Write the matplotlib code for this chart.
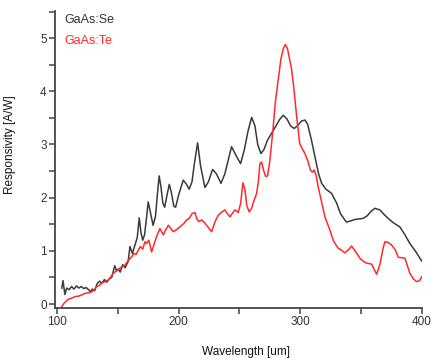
import matplotlib
matplotlib.use("Agg")
import matplotlib.pyplot as plt
from matplotlib.ticker import MultipleLocator

plt.rcParams['font.family'] = ['Liberation Sans', 'DejaVu Sans']

# GaAs:Se (black) responsivity
se_x = [104, 105, 106.5, 108, 110, 112, 114, 116, 118, 120, 122, 124, 126, 127.5, 129, 131, 133,
        135, 137, 139, 141, 143, 145, 147.5, 149, 150.5, 152, 154, 156, 158.5, 160, 162, 164,
        166, 167.6, 169, 170.5, 172, 173.5, 175, 177, 179, 181, 182.5, 184, 185.5, 187, 188.5,
        190.5, 192.3, 194, 196, 197.5, 200, 203.8, 206.5, 208.7, 211, 213, 215.6, 218, 221.6,
        224.5, 227.9, 231, 234.8, 238, 243.5, 247, 250.9, 254, 257, 260, 262.7, 265,
        267.6, 270, 273, 276.4, 280, 283, 286, 289, 292, 295, 298, 301, 303.8, 306, 309,
        312, 315, 317.5, 321, 325.7, 329.8, 333, 336.6, 338, 341, 344.9, 348, 351.7, 355,
        358, 361.3, 365.4, 369, 373.6, 377, 381.8, 386, 390, 395, 399.7]
se_y = [0.3, 0.44, 0.18, 0.3, 0.27, 0.33, 0.28, 0.34, 0.3, 0.33, 0.29, 0.31, 0.27, 0.23, 0.28, 0.25,
        0.38, 0.43, 0.39, 0.46, 0.41, 0.47, 0.5, 0.72, 0.62, 0.66, 0.6, 0.74, 0.68, 0.8, 1.08,
        0.95, 1.1, 1.25, 1.62, 1.35, 1.2, 1.3, 1.6, 1.92, 1.7, 1.48, 1.65, 2.05, 2.41, 2.2,
        1.9, 1.82, 2.05, 2.25, 2.1, 1.84, 1.82, 2.05, 2.33, 2.25, 2.16, 2.3, 2.65, 3.03, 2.6,
        2.19, 2.3, 2.53, 2.45, 2.27, 2.45, 2.96, 2.8, 2.64, 2.9, 3.25, 3.51, 3.35, 3.0,
        2.83, 2.9, 3.08, 3.21, 3.35, 3.47, 3.55, 3.48, 3.35, 3.3, 3.36, 3.44, 3.46, 3.38,
        3.1, 2.77, 2.45, 2.27, 2.16, 2.08, 1.9, 1.7, 1.58, 1.54, 1.56, 1.59, 1.6, 1.61, 1.66,
        1.74, 1.8, 1.77, 1.68, 1.58, 1.52, 1.45, 1.3, 1.14, 0.98, 0.81]

# GaAs:Te (red) responsivity
te_x = [104, 106, 109.3, 112, 115, 118, 120.3, 123, 126, 128.5, 130.5, 132.6, 135, 137, 139.4,
        142, 144, 146.3, 149, 151, 153.2, 155.5, 158, 161.4, 163.5, 165, 166.8, 168.5, 170.5,
        172.3, 173.7, 175.5, 177.8, 179.5, 181.9, 184.6, 186, 187.4, 189, 191.5, 193.5, 195.6,
        198.4, 200.5, 202.5, 204.5, 206.6, 209, 211, 213.4, 215, 216.5, 219, 221.6, 224,
        227.1, 230, 232.5, 235, 238, 240, 242.2, 244, 246.3, 249, 251, 252.8, 254.5, 256, 258,
        260, 262, 264.1, 265.5, 266.8, 268.2, 270, 271.5, 273.1, 275, 277.5, 279.5, 281.8,
        284, 286, 287.7, 289.5, 291, 292.6, 294.5, 297, 299.5, 301.5, 303.8, 306, 308.3,
        310, 311.4, 313, 314.7, 317.5, 320.2, 322.5, 324.3, 327, 329, 331.1, 333.5, 336.6,
        339.5, 342.1, 345, 349, 352, 354.5, 358.6, 362.7, 365.5, 368, 369.5, 372, 375, 378,
        380.5, 383, 386, 388, 390, 393, 395.6, 398, 399.7]
te_y = [-0.05, 0.02, 0.09, 0.11, 0.14, 0.15, 0.17, 0.2, 0.21, 0.23, 0.26, 0.33, 0.35, 0.4, 0.42,
        0.45, 0.5, 0.58, 0.62, 0.66, 0.7, 0.72, 0.8, 0.89, 0.95, 0.93, 1.01, 1.08, 1.03,
        1.17, 1.14, 1.2, 0.98, 1.1, 1.27, 1.42, 1.36, 1.3, 1.38, 1.48, 1.42, 1.36, 1.4,
        1.44, 1.48, 1.52, 1.58, 1.62, 1.7, 1.72, 1.6, 1.55, 1.58, 1.52, 1.45, 1.36, 1.55,
        1.67, 1.72, 1.77, 1.7, 1.64, 1.7, 1.77, 1.72, 1.9, 2.28, 2.15, 1.85, 1.73, 1.8, 1.95,
        2.08, 2.3, 2.64, 2.67, 2.5, 2.4, 2.41, 2.7, 3.27, 3.8, 4.21, 4.6, 4.8, 4.88, 4.8,
        4.62, 4.45, 4.1, 3.52, 3.02, 2.92, 2.83, 2.7, 2.52, 2.48, 2.52, 2.42, 2.2, 1.92,
        1.64, 1.5, 1.39, 1.2, 1.12, 1.05, 1.02, 0.96, 1.02, 1.09, 1.0, 0.86, 0.8, 0.77,
        0.75, 0.56, 0.75, 1.05, 1.17, 1.16, 1.11, 1.02, 0.88, 0.87, 0.86, 0.72, 0.58, 0.47,
        0.42, 0.44, 0.51]

x_ticks = [100, 200, 300, 400]
y_ticks = [0, 1, 2, 3, 4, 5]

fig = plt.figure(figsize=(4.32, 3.6), dpi=100)
ax = fig.add_axes([55/432, 1 - 308/360, 367/432, 297/360])

ax.plot(se_x, se_y, color='#3a3a3a', lw=1.1)
ax.plot(te_x, te_y, color='#ff2a2a', lw=1.1)

ax.set_xlim(98.4, 400)
ax.set_ylim(-0.075, 5.51)
ax.set_xticks(x_ticks)
ax.set_yticks(y_ticks)
ax.xaxis.set_minor_locator(MultipleLocator(50))
ax.yaxis.set_minor_locator(MultipleLocator(0.5))

for s in ['top', 'right']:
    ax.spines[s].set_visible(False)
for s in ['left', 'bottom']:
    ax.spines[s].set_color('#444444')
    ax.spines[s].set_linewidth(1.3)

ax.tick_params(which='major', direction='out', length=4, width=1.1, color='#444444',
               labelsize=8.5, labelcolor='#333333', pad=2)
ax.tick_params(which='minor', direction='out', length=4, width=1.1, color='#444444')

ax.set_xlabel('Wavelength [um]', fontsize=8.5, color='#111111')
ax.set_ylabel('Responsivity [A/W]', fontsize=8.5, color='#111111')
ax.yaxis.set_label_coords(-0.105, 0.55)
ax.xaxis.set_label_coords(0.52, -0.127)

ax.text(0.025, 0.97, 'GaAs:Se', transform=ax.transAxes, color='#333333', fontsize=9,
        va='center', ha='left')
ax.text(0.025, 0.9, 'GaAs:Te', transform=ax.transAxes, color='#ff2a2a', fontsize=9,
        va='center', ha='left')

fig.savefig('out.png', dpi=100)
